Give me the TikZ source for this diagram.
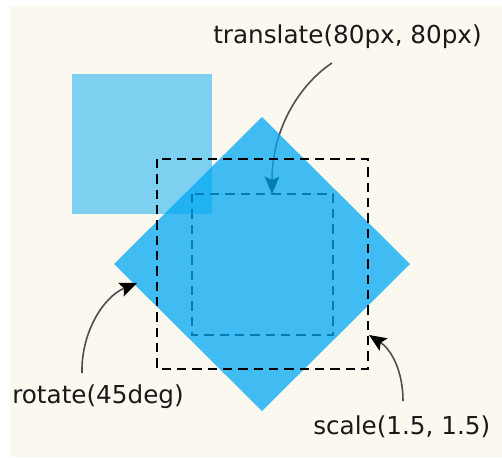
\documentclass[tikz,border=0pt]{standalone}
\usepackage{fontspec}
\setmainfont{DejaVu Sans}
\usetikzlibrary{arrows.meta}
\definecolor{paper}{HTML}{FAF8EF}
\definecolor{boxblue}{HTML}{03A9F4}
\definecolor{inkgray}{HTML}{4F4F4F}
\tikzset{
  tagtext/.style={font=\fontsize{18.5}{22}\selectfont, text=black!90, inner sep=0pt, anchor=base west},
  outline/.style={draw=black, line width=1.5pt, dash pattern=on 7pt off 4.5pt},
  pointer/.style={draw=inkgray, line width=1.2pt, -{Stealth[length=13pt,width=11pt,inset=2.5pt,color=black]}}
}
\begin{document}
\begin{tikzpicture}[x=0.75pt,y=-0.75pt]
\useasboundingbox (0,0) rectangle (502,457);
% Paper
\fill[paper] (10,6) rectangle (502,457);
% Labels and arrow ends
\node[tagtext] (translate) at (213,43) {translate(80px, 80px)};
\node[tagtext] (rotate) at (12,403) {rotate(45deg)};
\node[tagtext] (scale) at (313,434) {scale(1.5, 1.5)};
\coordinate (tfrom) at (332,63);
\coordinate (tto) at (272,194);
\coordinate (rfrom) at (82,373);
\coordinate (rto) at (137,283);
\coordinate (sfrom) at (403,401);
\coordinate (sto) at (369,335);
% Original box
\fill[boxblue, fill opacity=0.5] (72,74) rectangle (212,214);
% Translated box
\draw[outline] (192,194) rectangle (333,335);
\draw[pointer] (tfrom) .. controls (303,82) and (272,125) .. (tto);
% Rotated box
\fill[boxblue, fill opacity=0.75] (262,117) -- (410,264) -- (262,411) -- (114,264) -- cycle;
% Scaled box
\draw[outline] (157,159) rectangle (368,369);
\draw[pointer] (rfrom) .. controls (81,333) and (103,297) .. (rto);
\draw[pointer] (sfrom) .. controls (403,372) and (392,350) .. (sto);
\end{tikzpicture}
\end{document}
